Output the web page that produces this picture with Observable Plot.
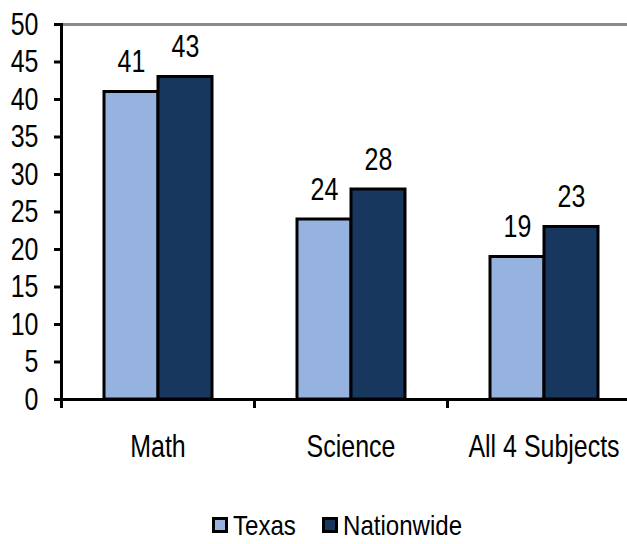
<!DOCTYPE html>
<html><head><meta charset="utf-8">
<script src="https://cdn.jsdelivr.net/npm/d3@7"></script>
<script src="https://cdn.jsdelivr.net/npm/@observablehq/plot@0.6"></script>
<style>
body{margin:0;background:#fff;overflow:hidden;font-family:"Liberation Sans",Arial,sans-serif;}
#chart svg{display:block;}
#legend{display:flex;align-items:flex-end;box-sizing:border-box;height:36px;padding-left:212px;padding-bottom:5px;font-size:28px;line-height:26px;color:#000;}
.sw{width:10px;height:10px;border:3px solid #000;display:inline-block;margin-right:5px;flex:none;position:relative;top:-1px;}
.item{display:flex;align-items:center;margin-right:26px;}
.lbl{display:inline-block;transform:scaleX(0.86);transform-origin:left center;}
</style></head>
<body>
<div id="chart"></div>
<div id="legend"></div>
<script>
const categories = ["Math", "Science", "All 4 Subjects"];
const series = ["Texas", "Nationwide"];
const texas = [41, 24, 19];
const nationwide = [43, 28, 23];
const yTicks = [0, 5, 10, 15, 20, 25, 30, 35, 40, 45, 50];
const colors = ["#95b3de", "#17375e"];

const data = [];
categories.forEach((c, i) => {
  data.push({category: c, series: "Texas", value: texas[i]});
  data.push({category: c, series: "Nationwide", value: nationwide[i]});
});

const font = '"Liberation Sans",Arial,sans-serif';
const chart = Plot.plot({
  width: 627, height: 508,
  marginLeft: 61, marginRight: -13, marginTop: 24, marginBottom: 109,
  style: {fontFamily: font, fontSize: "32px", color: "#000", background: "#fff"},
  fx: {domain: categories, padding: 0, label: null},
  x: {domain: series, paddingInner: 0, paddingOuter: 0.77, axis: null},
  y: {domain: [0, 50], label: null},
  color: {domain: series, range: colors},
  marks: [
    Plot.ruleY([50], {stroke: "#898989", strokeWidth: 3}),
    Plot.barY(data, {fx: "category", x: "series", y: "value", fill: "series", stroke: "#000", strokeWidth: 3}),
    Plot.text(data, {fx: "category", x: "series", y: "value", text: d => String(d.value), lineAnchor: "bottom", dy: -20, fontSize: 32, fill: "#000"}),
    Plot.ruleY([0], {stroke: "#000", strokeWidth: 3}),
    Plot.frame({anchor: "left", stroke: "#000", strokeWidth: 3, facetAnchor: "left"}),
    Plot.axisY({ticks: yTicks, tickSize: 7, tickPadding: 16, strokeWidth: 3, fontSize: 32, label: null, facetAnchor: "left"}),
    Plot.axisFx({anchor: "bottom", tickSize: 0, tickPadding: 35, fontSize: 32, label: null}),
    Plot.axisFx({anchor: "bottom", tickSize: 9, text: null, strokeWidth: 3, dx: -96.5, label: null})
  ]
});
// narrow the glyphs horizontally to mimic a condensed typeface
const S = 0.78;
chart.querySelectorAll("text").forEach(t => {
  const x = +(t.getAttribute("x") || 0);
  const tr = t.getAttribute("transform") || "";
  t.setAttribute("transform", `${tr} translate(${x},0) scale(${S},1) translate(${-x},0)`);
});
document.getElementById("chart").appendChild(chart);

const legend = document.getElementById("legend");
series.forEach((s, i) => {
  const item = document.createElement("div");
  item.className = "item";
  const sw = document.createElement("span");
  sw.className = "sw";
  sw.style.background = colors[i];
  item.appendChild(sw);
  const lbl = document.createElement("span");
  lbl.className = "lbl";
  lbl.textContent = s;
  item.appendChild(lbl);
  legend.appendChild(item);
  const w = lbl.getBoundingClientRect().width / 0.86;
  lbl.style.marginRight = (-(1 - 0.86) * w) + "px";
});
</script>
</body></html>
